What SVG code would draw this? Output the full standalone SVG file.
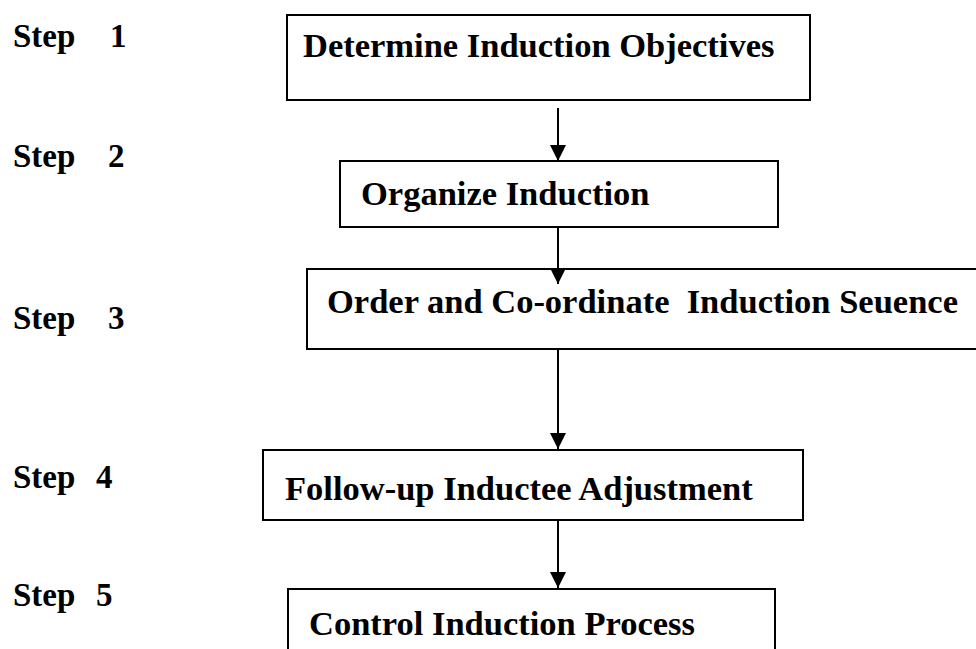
<svg xmlns="http://www.w3.org/2000/svg" width="976" height="649" viewBox="0 0 976 649">
  <style>
    .box { fill: #ffffff; stroke: #000000; stroke-width: 2; }
    .label { font-family: "Liberation Serif", "Times New Roman", serif; font-weight: bold; font-size: 34.5px; fill: #000000; }
    .step { font-family: "Liberation Serif", "Times New Roman", serif; font-weight: bold; font-size: 33px; fill: #000000; }
    .link { stroke: #000000; stroke-width: 2; fill: none; marker-end: url(#head); }
  </style>
  <defs>
    <!-- solid triangular arrowhead, tip at the end of the line -->
    <marker id="head" markerUnits="userSpaceOnUse" markerWidth="16" markerHeight="16" refX="16" refY="8" orient="auto" viewBox="0 0 16 16">
      <path d="M0,0 L16,8 L0,16 Z" fill="#000000"/>
    </marker>
  </defs>
  <rect width="976" height="649" fill="#ffffff"/>

  <!-- step labels -->
  <g id="steps">
    <text class="step" x="13" y="47">Step<tspan x="110">1</tspan></text>
    <text class="step" x="13" y="167">Step<tspan x="108">2</tspan></text>
    <text class="step" x="13" y="329">Step<tspan x="108">3</tspan></text>
    <text class="step" x="13" y="488">Step<tspan x="96">4</tspan></text>
    <text class="step" x="13" y="606">Step<tspan x="96">5</tspan></text>
  </g>

  <!-- process boxes -->
  <g id="objectives">
    <rect class="box" x="287" y="15" width="523" height="85"/>
    <text class="label" x="303" y="57">Determine Induction Objectives</text>
  </g>
  <g id="organize">
    <rect class="box" x="340" y="161" width="438" height="66"/>
    <text class="label" x="361" y="205">Organize Induction</text>
  </g>
  <g id="sequence">
    <rect class="box" x="307" y="269" width="690" height="80"/>
    <text class="label" x="327" y="313" xml:space="preserve">Order and Co-ordinate  Induction Seuence</text>
  </g>
  <g id="followup">
    <rect class="box" x="263" y="450" width="540" height="70"/>
    <text class="label" x="285" y="500">Follow-up Inductee Adjustment</text>
  </g>
  <g id="control">
    <rect class="box" x="288" y="589" width="487" height="80"/>
    <text class="label" x="309" y="635">Control Induction Process</text>
  </g>

  <!-- connectors -->
  <g id="connectors">
    <line class="link" x1="558" y1="108" x2="558" y2="161"/>
    <line class="link" x1="558" y1="227" x2="558" y2="284"/>
    <line class="link" x1="558" y1="349" x2="558" y2="449"/>
    <line class="link" x1="558" y1="520" x2="558" y2="588"/>
  </g>
</svg>
